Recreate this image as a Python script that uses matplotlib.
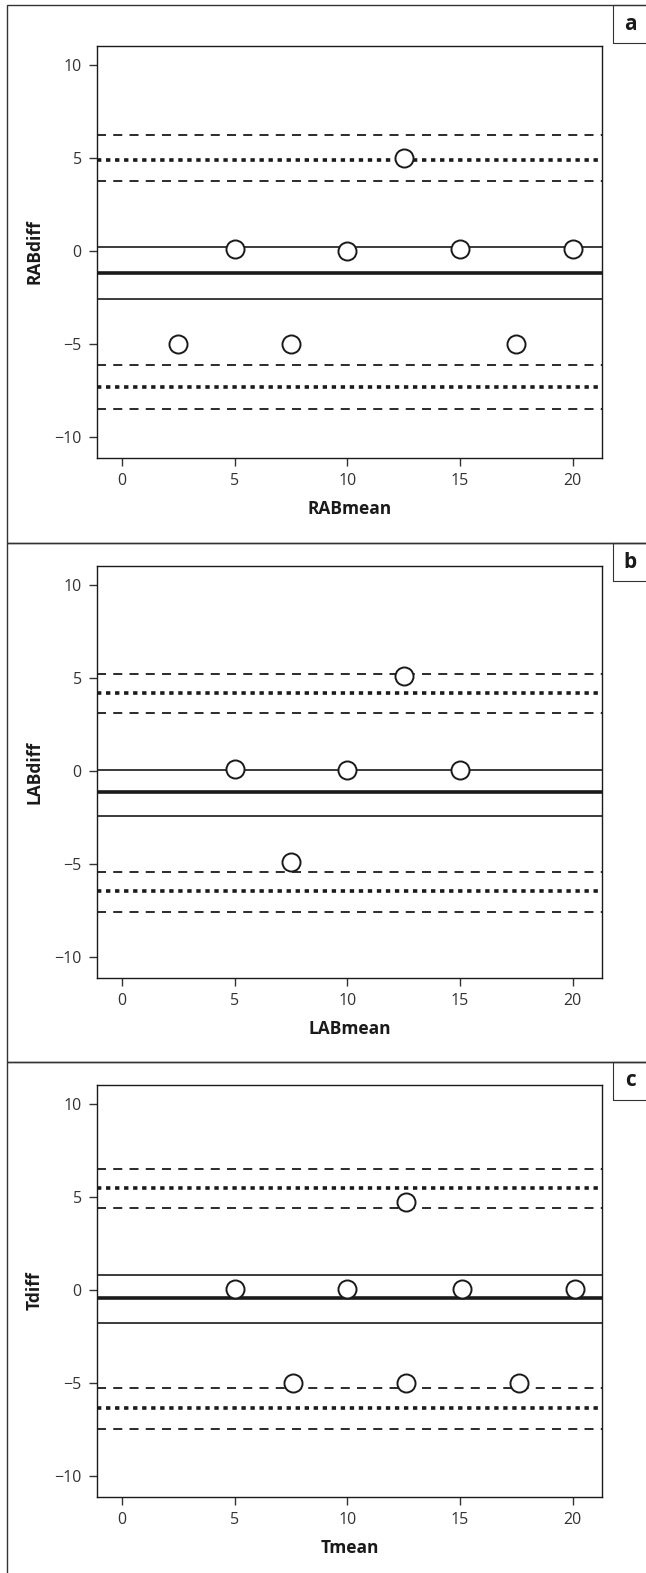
import numpy as np
import matplotlib.pyplot as plt
from matplotlib.patches import Rectangle

plt.rcParams['font.family'] = ['Open Sans', 'DejaVu Sans']

W, H = 646, 1573

panel_labels = ['a', 'b', 'c']
xlabels = ['RABmean', 'LABmean', 'Tmean']
ylabels = ['RABdiff', 'LABdiff', 'Tdiff']

# points (mean, diff)
a_x = [2.5, 5, 7.5, 10, 12.5, 15, 17.5, 20]
a_y = [-5, 0.1, -5, 0, 5, 0.1, -5, 0.1]
b_x = [5, 7.5, 10, 12.5, 15]
b_y = [0.1, -4.9, 0.05, 5.1, 0.05]
c_x = [5, 7.6, 10, 12.6, 12.6, 15.1, 17.6, 20.1]
c_y = [0.05, -5, 0.05, 4.7, -5, 0.05, -5, 0.05]

# bias line with CI, limits of agreement with CI
a_bias = [0.2, -1.2, -2.55]
a_upper = [6.2, 4.9, 3.75]
a_lower = [-6.1, -7.3, -8.45]
b_bias = [0.05, -1.1, -2.4]
b_upper = [5.2, 4.2, 3.1]
b_lower = [-5.4, -6.45, -7.55]
c_bias = [0.8, -0.45, -1.75]
c_upper = [6.5, 5.5, 4.4]
c_lower = [-5.25, -6.3, -7.45]

xs = [a_x, b_x, c_x]
ys = [a_y, b_y, c_y]
biases = [a_bias, b_bias, c_bias]
uppers = [a_upper, b_upper, c_upper]
lowers = [a_lower, b_lower, c_lower]

fig = plt.figure(figsize=(W / 100, H / 100), dpi=100)

# panel frames (pixel coords: top, bottom)
frames = [(5, 543), (543, 1062), (1062, 1580)]
axes_px = [(46, 458), (566, 978), (1085, 1497)]
ax_left, ax_right = 97, 602


def fx(px):
    return px / W


def fy(py):
    return 1 - py / H


for i in range(3):
    t, b = frames[i]
    fig.add_artist(Rectangle((fx(7), fy(b)), fx(W + 5) - fx(7), fy(t) - fy(b),
                             transform=fig.transFigure, fill=False,
                             edgecolor='#333333', linewidth=1.0))
    fig.add_artist(Rectangle((fx(613), fy(t + 38)), fx(W + 5) - fx(613), fy(t) - fy(t + 38),
                             transform=fig.transFigure, fill=False,
                             edgecolor='#333333', linewidth=0.8))
    fig.text(fx(630), fy(t + 19), panel_labels[i], fontsize=15, fontweight='bold',
             ha='center', va='center', color='#1a1a1a')

    at, ab = axes_px[i]
    ax = fig.add_axes([fx(ax_left), fy(ab), fx(ax_right) - fx(ax_left), fy(at) - fy(ab)])

    for v, ls in zip(uppers[i] + lowers[i], ['dashed', 'dotted', 'dashed'] * 2):
        if ls == 'dashed':
            ax.axhline(v, color='#1a1a1a', lw=1.3, ls=(0, (5, 4)))
        else:
            ax.axhline(v, color='#1a1a1a', lw=2.6, ls=(0, (1.2, 1.3)))
    ax.axhline(biases[i][0], color='#1a1a1a', lw=1.2)
    ax.axhline(biases[i][1], color='#1a1a1a', lw=2.6)
    ax.axhline(biases[i][2], color='#1a1a1a', lw=1.2)

    ax.plot(xs[i], ys[i], 'o', ms=13, mfc='white', mec='#1a1a1a', mew=1.4, zorder=5)

    ax.set_xlim(-1.1, 21.3)
    ax.set_ylim(-11.1, 11)
    ax.set_xticks([0, 5, 10, 15, 20])
    ax.set_yticks([-10, -5, 0, 5, 10])
    ax.set_yticklabels(['\u221210', '\u22125', '0', '5', '10'])
    ax.tick_params(direction='out', length=6, width=1, labelsize=11.5,
                   labelcolor='#333333', color='#333333', pad=5)
    for s in ax.spines.values():
        s.set_linewidth(1.0)
        s.set_color('#1a1a1a')
    ax.set_xlabel(xlabels[i], fontsize=12.5, fontweight='bold', color='#1a1a1a', labelpad=8)
    ax.set_ylabel(ylabels[i], fontsize=12.5, fontweight='bold', color='#1a1a1a', labelpad=8)

fig.savefig('out.png', dpi=100)
